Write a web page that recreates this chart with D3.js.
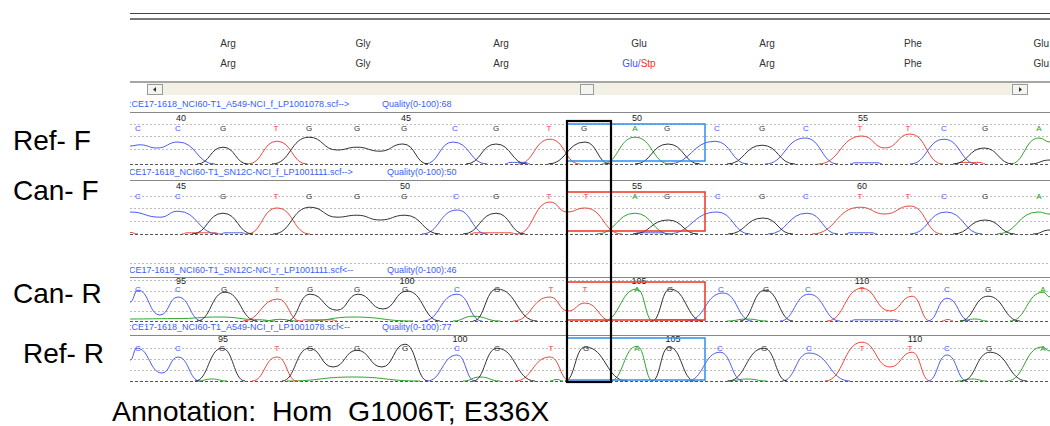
<!DOCTYPE html>
<html><head><meta charset="utf-8">
<script src="https://cdn.jsdelivr.net/npm/d3@7/dist/d3.min.js"></script>
<style>body{margin:0;background:#fff}svg{display:block}</style>
</head><body>
<svg id="c" width="1050" height="426"></svg>
<script>
// ---------------- DATA ----------------
const codonPos = [98, 233, 371, 509, 637, 783, 919];
const codonRef = ["Arg", "Gly", "Arg", "Glu", "Arg", "Phe", "Glu"];
const codonCan = ["Arg", "Gly", "Arg", "Glu/Stp", "Arg", "Phe", "Glu"];

const trackNames = [
  ":CE17-1618_NCI60-T1_A549-NCI_f_LP1001078.scf-->",
  "CE17-1618_NCI60-T1_SN12C-NCI_f_LP1001111.scf-->",
  "CE17-1618_NCI60-T1_SN12C-NCI_r_LP1001111.scf<--",
  ":CE17-1618_NCI60-T1_A549-NCI_r_LP1001078.scf<--"
];
const trackQuality = [68, 50, 46, 77];
const sideLabels = ["Ref- F", "Can- F", "Can- R", "Ref- R"];
const annotation = "Annotation:  Hom  G1006T; E336X";

const bases1 = "CCGTGGGCGTGAGCGCTTCGA";
const bases2 = "CCGTGGGCGTTAGCGCTTCGA";
const bases3 = "CCGTGGGCGTTAGCGCTTCGA";
const bases4 = "CCGTGGGCGTGAGCGCTTCGA";
const basePos1 = [8,48,93,146,179,227,274,325,366,419,454,505,537,587,632,676,730,778,814,855,909];
const basePos2 = [8,48,93,146,179,227,274,326,366,419,456,505,537,588,632,676,730,778,814,855,909];
const basePos3 = [8,48,94,147,180,227,275,327,367,421,455,507,540,591,636,678,732,780,817,858,913];
const basePos4 = [8,48,92,147,180,227,275,327,367,421,456,507,539,590,634,679,732,780,817,859,913];

const numLabels1 = [40, 45, 50, 55], numPos1 = [51, 276, 507, 733];
const numLabels2 = [45, 50, 55, 60], numPos2 = [51, 275, 507, 732];
const numLabels3 = [95, 100, 105, 110], numPos3 = [51, 277, 509, 732];
const numLabels4 = [95, 100, 105, 110], numPos4 = [93, 330, 543, 785];

// trace extrema: [scan, signal] ; each inner array is one continuous segment
const trace1 = {
  C: [[[0,45],[10,48],[27,40],[48,55],[85,0]], [[295,0],[323,55],[357,0]], [[375,0],[380,4],[395,4],[400,0]],
      [[538,0],[585,57],[618,0]], [[635,0],[675,65],[708,0]], [[720,0],[725,3],[748,3],[752,0]], [[780,0],[814,62],[847,0]]],
  G: [[[67,0],[93,42],[118,0]], [[142,0],[179,67],[207,35],[227,42],[250,32],[273,50],[298,0]], [[336,0],[366,50],[397,0]],
      [[418,0],[455,55],[480,0]], [[505,0],[538,50],[570,0]], [[597,0],[632,47],[665,0]], [[823,0],[854,40],[883,0]], [[900,0],[920,10]]],
  T: [[[118,0],[147,57],[177,0]], [[388,0],[420,62],[450,0]], [[688,0],[732,70],[755,40],[780,75],[813,0]], [[825,0],[830,4],[850,4],[855,0]]],
  A: [[[472,0],[505,67],[540,0]], [[880,0],[909,65],[920,55]]]
};
const trace2 = {
  C: [[[0,55],[30,42],[48,57],[88,0]], [[90,0],[95,3],[112,3],[117,0]], [[292,0],[327,60],[357,0]], [[503,0],[508,3],[533,3],[537,0]],
      [[537,0],[587,55],[620,0]], [[638,0],[677,52],[708,0]], [[715,0],[720,3],[742,3],[747,0]], [[780,0],[816,55],[852,0]]],
  G: [[[62,0],[93,52],[123,0]], [[143,0],[180,67],[207,42],[227,47],[250,35],[275,47],[310,0]], [[333,0],[366,52],[395,0]],
      [[503,0],[538,35],[568,0]], [[598,0],[633,40],[663,0]], [[823,0],[855,35],[885,0]], [[903,0],[920,10]]],
  T: [[[0,4],[8,0]], [[52,0],[57,3],[85,3],[90,0]], [[117,0],[147,65],[180,0]], [[340,0],[345,3],[380,3],[387,0]],
      [[387,0],[420,80],[437,55],[455,65],[492,0]], [[682,0],[730,67],[755,50],[780,70],[812,0]]],
  A: [[[467,0],[505,52],[540,0]], [[867,0],[908,55],[920,50]]]
};
const trace3 = {
  C: [[[0,47],[8,77],[30,15],[48,60],[72,0]], [[293,0],[327,67],[352,0]], [[557,0],[593,70],[622,0]], [[650,0],[679,67],[710,0]],
      [[720,0],[725,3],[765,3],[770,0]], [[798,0],[817,57],[840,0]]],
  G: [[[67,0],[95,72],[127,0]], [[157,0],[180,67],[207,27],[228,67],[253,30],[277,75],[310,0]], [[343,0],[367,80],[407,0]],
      [[522,0],[540,80],[573,0]], [[610,0],[635,77],[663,0]], [[830,0],[858,62],[890,0]]],
  T: [[[113,0],[148,55],[170,0]], [[170,0],[175,3],[202,3],[207,0]], [[383,0],[420,60],[438,25],[455,45],[482,0]],
      [[522,0],[527,3],[565,3],[570,0]], [[697,0],[732,82],[760,25],[782,62],[800,0]], [[812,0],[818,4],[823,0]]],
  A: [[[0,5],[45,6],[90,10],[130,3],[145,0]], [[133,0],[150,4],[167,0]], [[177,0],[223,10],[283,0]], [[323,0],[343,12],[370,0]],
      [[473,0],[507,80],[523,0]], [[597,0],[617,5],[637,0]], [[830,0],[845,5],[857,0]], [[880,0],[913,72],[920,60]]]
};
const trace4 = {
  C: [[[0,52],[7,82],[32,20],[48,60],[70,0]], [[297,0],[327,65],[345,0]], [[557,0],[590,72],[613,0]], [[652,0],[679,70],[720,0]],
      [[798,0],[817,65],[837,0]]],
  G: [[[65,0],[92,82],[115,0]], [[152,0],[179,82],[203,35],[227,77],[252,35],[275,92],[298,0]], [[343,0],[367,82],[405,0]],
      [[435,0],[455,85],[497,0]], [[522,0],[539,85],[565,0]], [[598,0],[634,82],[657,0]], [[832,0],[860,72],[897,0]]],
  T: [[[122,0],[147,60],[167,0]], [[385,0],[420,60],[440,0]], [[695,0],[732,97],[760,35],[782,72],[800,0]]],
  A: [[[67,0],[82,5],[97,0]], [[157,0],[223,10],[290,0]], [[333,0],[350,10],[370,0]], [[420,0],[427,4],[433,0]],
      [[480,0],[507,87],[523,0]], [[597,0],[617,5],[637,0]], [[827,0],[842,5],[857,0]], [[877,0],[912,85],[920,75]]]
};
// highlighted region (scan units)
const mutCol = [437, 481];
const codonBox = [437, 575];

// ---------------- LAYOUT ----------------
const W = 1050, H = 426;
const svg = d3.select("#c");
const x = d3.scaleLinear().domain([0, 920]).range([130, 1050]);
const colors = {C: "#4b5cf5", G: "#333333", T: "#f0463c", A: "#2fa52f"};
const textCol = {C: "#3f55ff", G: "#333333", T: "#ff3030", A: "#22a022"};
const FONT = "Arial, 'Liberation Sans', sans-serif";

const clip = svg.append("clipPath").attr("id", "cp").append("rect")
  .attr("x", 130).attr("y", 0).attr("width", 920).attr("height", H);
const g = svg.append("g").attr("clip-path", "url(#cp)");

// top double line
g.append("line").attr("x1", 130).attr("x2", W).attr("y1", 13.5).attr("y2", 13.5).attr("stroke", "#444").attr("stroke-width", 1);
g.append("line").attr("x1", 130).attr("x2", W).attr("y1", 19).attr("y2", 19).attr("stroke", "#777").attr("stroke-width", 2);

// codon rows
[codonRef, codonCan].forEach((row, ri) => {
  row.forEach((lab, i) => {
    const last = i === row.length - 1;
    const t = svg.append("text").attr("x", last ? W - 1 : x(codonPos[i])).attr("y", ri ? 67 : 47)
      .attr("text-anchor", last ? "end" : "middle").attr("font-family", FONT).attr("font-size", 10).attr("fill", "#333");
    if (lab.includes("/")) {
      const [a, b] = lab.split("/");
      t.append("tspan").attr("fill", "#4455ff").text(a + "/");
      t.append("tspan").attr("fill", "#ff2a2a").text(b);
    } else t.text(lab);
  });
});

// scrollbar
g.append("line").attr("x1", 130).attr("x2", W).attr("y1", 82).attr("y2", 82).attr("stroke", "#888").attr("stroke-width", 1.5);
g.append("rect").attr("x", x(17)).attr("y", 83).attr("width", x(897) - x(17)).attr("height", 12).attr("fill", "#f3f1e6");
function btn(px, w, arrow) {
  g.append("rect").attr("x", px + 0.5).attr("y", 84.5).attr("width", w).attr("height", 10)
    .attr("fill", "#f4f4f0").attr("stroke", "#9a9a9a").attr("stroke-width", 1);
  if (arrow) {
    const cx = px + w / 2 + 0.5, cy = 89.5;
    const pts = arrow < 0 ? [[cx - 2, cy], [cx + 1, cy - 2.5], [cx + 1, cy + 2.5]] : [[cx + 2, cy], [cx - 1, cy - 2.5], [cx - 1, cy + 2.5]];
    g.append("path").attr("d", d3.line()(pts) + "Z").attr("fill", "#333");
  }
}
btn(x(17), 15, -1);
btn(x(882), 15, 1);
btn(x(450), 13, 0);

// tracks
const tracks = [
  {bases: bases1, pos: basePos1, nl: numLabels1, np: numPos1, tr: trace1, labelY: 107, solid: 112, numY: 121, letY: 131, grid: [124, 136, 149], base: 164},
  {bases: bases2, pos: basePos2, nl: numLabels2, np: numPos2, tr: trace2, labelY: 175, solid: 180, numY: 189, letY: 199, grid: [196, 208, 221], base: 234},
  {bases: bases3, pos: basePos3, nl: numLabels3, np: numPos3, tr: trace3, labelY: 273, solid: 277, numY: 284, letY: 292, grid: [263, 280, 291, 301, 311], base: 321},
  {bases: bases4, pos: basePos4, nl: numLabels4, np: numPos4, tr: trace4, labelY: 330, solid: 335, numY: 342, letY: 351, grid: [348, 359, 370], base: 381}
];

tracks.forEach((t, ti) => {
  const y = d3.scaleLinear().domain([0, 100]).range([t.base, t.base - 40]);
  // name + quality
  g.append("text").attr("x", 129).attr("y", t.labelY).attr("font-family", FONT).attr("font-size", 9)
    .attr("fill", "#3a5cff").text(trackNames[ti]);
  g.append("text").attr("x", ti === 0 || ti === 3 ? 382 : 387).attr("y", t.labelY).attr("font-family", FONT).attr("font-size", 9)
    .attr("fill", "#3a5cff").text("Quality(0-100):" + trackQuality[ti]);
  // solid separator
  g.append("line").attr("x1", 130).attr("x2", W).attr("y1", t.solid + 0.5).attr("y2", t.solid + 0.5).attr("stroke", "#888").attr("stroke-width", 1.2);
  // dashed grid
  t.grid.forEach(gy => g.append("line").attr("x1", 130).attr("x2", W).attr("y1", gy + 0.5).attr("y2", gy + 0.5)
    .attr("stroke", "#bdbdbd").attr("stroke-dasharray", "2,2"));
  g.append("line").attr("x1", 130).attr("x2", W).attr("y1", t.base + 0.5).attr("y2", t.base + 0.5)
    .attr("stroke", "#555").attr("stroke-width", 1.2).attr("stroke-dasharray", "3,2");
  // numbers
  t.nl.forEach((n, i) => g.append("text").attr("x", x(t.np[i])).attr("y", t.numY).attr("text-anchor", "middle")
    .attr("font-family", FONT).attr("font-size", 9).attr("fill", "#222").text(n));
  // base letters
  t.bases.split("").forEach((b, i) => g.append("text").attr("x", x(t.pos[i])).attr("y", t.letY).attr("text-anchor", "middle")
    .attr("font-family", FONT).attr("font-size", 8).attr("fill", textCol[b]).text(b));
  // traces
  const line = d3.line().x(d => x(d[0])).y(d => y(d[1])).curve(d3.curveBumpX);
  ["A", "T", "C", "G"].forEach(ch => {
    t.tr[ch].forEach(seg => g.append("path").attr("d", line(seg)).attr("fill", "none")
      .attr("stroke", colors[ch]).attr("stroke-width", 1));
  });
  // codon box
  const boxCol = (ti === 0 || ti === 3) ? "#2b8ff0" : "#ee3322";
  const by0 = [124, 192, 282, 338][ti], by1 = [161, 231, 320, 380][ti];
  g.append("rect").attr("x", x(codonBox[0])).attr("y", by0).attr("width", x(codonBox[1]) - x(codonBox[0])).attr("height", by1 - by0)
    .attr("fill", "none").attr("stroke", boxCol).attr("stroke-width", 1.5);
});

// mutation column box
g.append("rect").attr("x", x(mutCol[0])).attr("y", 121).attr("width", x(mutCol[1]) - x(mutCol[0])).attr("height", 261)
  .attr("fill", "none").attr("stroke", "#000").attr("stroke-width", 2.2);

// side labels
const sideY = [150, 200, 303, 363], sideX = [13, 13, 13, 23];
sideLabels.forEach((s, i) => svg.append("text").attr("x", sideX[i]).attr("y", sideY[i]).attr("font-family", FONT)
  .attr("font-size", 28).attr("fill", "#000").style("white-space", "pre").text(s));

svg.append("text").attr("x", 112).attr("y", 421).attr("font-family", FONT).attr("font-size", 28.5)
  .attr("fill", "#000").style("white-space", "pre").text(annotation);
</script>
</body></html>
